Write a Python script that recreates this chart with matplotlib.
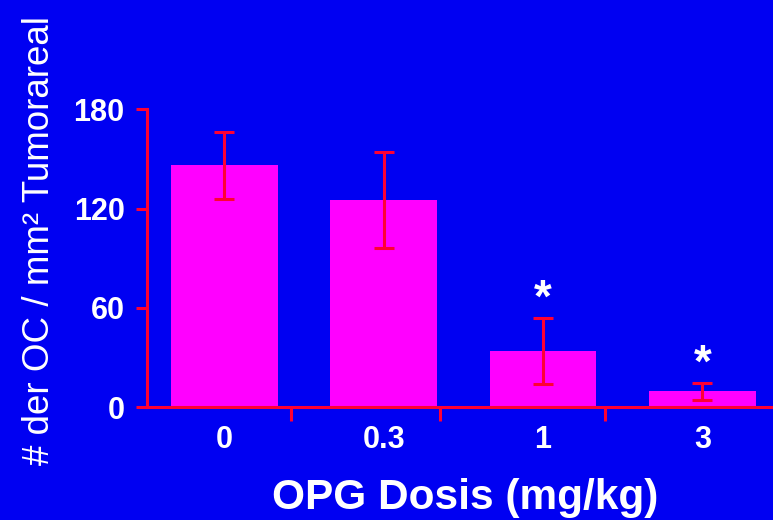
import matplotlib
matplotlib.use("Agg")
import matplotlib.pyplot as plt
import numpy as np

# OC count per tumour area for each OPG dose
doses = ["0", "0.3", "1", "3"]
oc_mean = [146, 125, 34, 9.5]
oc_sem = [20, 29, 20, 5]
significant = [False, False, True, True]

BG = "#0000F2"
BAR = "#FF00FF"
LINE = "#FF0033"

plt.rcParams["font.family"] = ["Liberation Sans", "DejaVu Sans"]

fig = plt.figure(figsize=(7.73, 5.20), dpi=100, facecolor=BG)
ax = fig.add_axes([0.190, 0.217, 0.810, 0.573], facecolor=BG)

x = np.arange(len(doses))
ax.bar(x, oc_mean, width=0.67, color=BAR, zorder=2)
ax.errorbar(x, oc_mean, yerr=oc_sem, fmt="none", ecolor=LINE,
            elinewidth=2.2, capsize=7, capthick=2.2, zorder=3)

for xi, m, e, s in zip(x, oc_mean, oc_sem, significant):
    if s:
        ax.text(xi, m + e + 11, "*", ha="center", va="center",
                color="white", fontsize=33, fontweight="bold")

ax.set_xlim(-0.487, 3.443)
ax.set_ylim(0, 180)
ax.set_yticks([0, 60, 120, 180])
ax.set_xticks(x)
ax.set_xticklabels(doses)
# separator ticks along the x axis
ax.set_xticks([0.42, 1.35, 2.39], minor=True)

for side in ("top", "right"):
    ax.spines[side].set_visible(False)
for side in ("left", "bottom"):
    ax.spines[side].set_color(LINE)
    ax.spines[side].set_linewidth(2.2)
    ax.spines[side].set_zorder(4)

ax.tick_params(axis="y", colors=LINE, length=8, width=2.2, pad=8,
               labelcolor="white", labelsize=22)
ax.tick_params(axis="x", which="major", length=0, pad=13,
               labelcolor="white", labelsize=22)
ax.tick_params(axis="x", which="minor", colors=LINE, length=10, width=2.2)
for lab in ax.get_xticklabels() + ax.get_yticklabels():
    lab.set_fontweight("bold")

fig.text(0.051, 0.538, "# der OC / mm\u00b2 Tumorareal", rotation=90,
         ha="center", va="center", color="white", fontsize=26.5)
fig.text(0.602, 0.042, "OPG Dosis (mg/kg)", ha="center", va="center",
         color="white", fontsize=30.5, fontweight="bold")

fig.savefig("out.png", dpi=100, facecolor=BG)
